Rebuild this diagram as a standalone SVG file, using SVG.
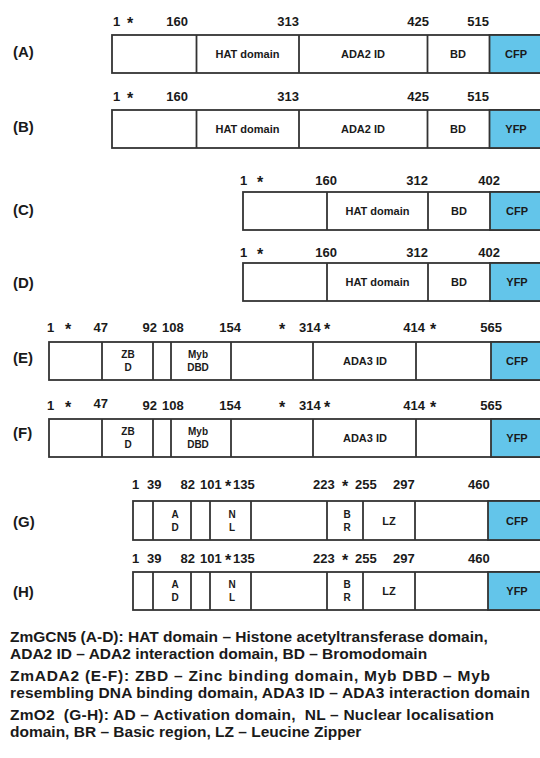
<svg xmlns="http://www.w3.org/2000/svg" width="540" height="758" viewBox="0 0 540 758">
<style>
text{font-family:"Liberation Sans",Arial,sans-serif;font-weight:bold;fill:#1a1a1a}
.n{font-size:13px}
.s{font-size:16px}
.lab{font-size:15px}
.d{font-size:11px;text-anchor:middle}
.d2{font-size:10px;text-anchor:middle}
.e{text-anchor:end}
.m{text-anchor:middle}
.box{fill:#fff;stroke:#333;stroke-width:1.8}
.fp{fill:#63c5ea;stroke:#333;stroke-width:1.8}
.dv{stroke:#333;stroke-width:1.8}
.leg{font-size:15.5px}
</style>
<rect width="540" height="758" fill="#fff"/>

<g id="A">
<text class="lab" x="13" y="57">(A)</text>
<rect class="box" x="112" y="35" width="430" height="38"/>
<rect class="fp" x="489.5" y="35" width="52" height="38"/>
<line class="dv" x1="196.5" y1="35" x2="196.5" y2="73"/>
<line class="dv" x1="299" y1="35" x2="299" y2="73"/>
<line class="dv" x1="427.5" y1="35" x2="427.5" y2="73"/>
<text class="d" x="247.5" y="58">HAT domain</text>
<text class="d" x="363" y="58">ADA2 ID</text>
<text class="d" x="458" y="58">BD</text>
<text class="d" x="516" y="58">CFP</text>
<text class="n" x="113" y="26">1</text>
<text class="s m" x="130" y="29">*</text>
<text class="n e" x="188" y="26">160</text>
<text class="n e" x="299" y="26">313</text>
<text class="n e" x="429" y="26">425</text>
<text class="n e" x="489" y="26">515</text>
</g>

<g id="B">
<text class="lab" x="13" y="132">(B)</text>
<rect class="box" x="112" y="110" width="430" height="38"/>
<rect class="fp" x="489.5" y="110" width="52" height="38"/>
<line class="dv" x1="196.5" y1="110" x2="196.5" y2="148"/>
<line class="dv" x1="299" y1="110" x2="299" y2="148"/>
<line class="dv" x1="427.5" y1="110" x2="427.5" y2="148"/>
<text class="d" x="247.5" y="133">HAT domain</text>
<text class="d" x="363" y="133">ADA2 ID</text>
<text class="d" x="458" y="133">BD</text>
<text class="d" x="516" y="133">YFP</text>
<text class="n" x="113" y="101">1</text>
<text class="s m" x="130" y="104">*</text>
<text class="n e" x="188" y="101">160</text>
<text class="n e" x="299" y="101">313</text>
<text class="n e" x="429" y="101">425</text>
<text class="n e" x="489" y="101">515</text>
</g>

<g id="C">
<text class="lab" x="13" y="215">(C)</text>
<rect class="box" x="243" y="192" width="299" height="38"/>
<rect class="fp" x="490" y="192" width="52" height="38"/>
<line class="dv" x1="327" y1="192" x2="327" y2="230"/>
<line class="dv" x1="428" y1="192" x2="428" y2="230"/>
<text class="d" x="377.5" y="215">HAT domain</text>
<text class="d" x="459" y="215">BD</text>
<text class="d" x="517" y="215">CFP</text>
<text class="n" x="240" y="185">1</text>
<text class="s m" x="260" y="188">*</text>
<text class="n e" x="337" y="185">160</text>
<text class="n e" x="428" y="185">312</text>
<text class="n e" x="500" y="185">402</text>
</g>

<g id="D">
<text class="lab" x="13" y="288">(D)</text>
<rect class="box" x="243" y="263" width="299" height="38"/>
<rect class="fp" x="490" y="263" width="52" height="38"/>
<line class="dv" x1="327" y1="263" x2="327" y2="301"/>
<line class="dv" x1="428" y1="263" x2="428" y2="301"/>
<text class="d" x="377.5" y="286">HAT domain</text>
<text class="d" x="459" y="286">BD</text>
<text class="d" x="517" y="286">YFP</text>
<text class="n" x="240" y="257">1</text>
<text class="s m" x="260" y="260">*</text>
<text class="n e" x="337" y="257">160</text>
<text class="n e" x="428" y="257">312</text>
<text class="n e" x="500" y="257">402</text>
</g>

<g id="E">
<text class="lab" x="13" y="363">(E)</text>
<rect class="box" x="49" y="342" width="493" height="38"/>
<rect class="fp" x="491" y="342" width="51" height="38"/>
<line class="dv" x1="102" y1="342" x2="102" y2="380"/>
<line class="dv" x1="153" y1="342" x2="153" y2="380"/>
<line class="dv" x1="171" y1="342" x2="171" y2="380"/>
<line class="dv" x1="231" y1="342" x2="231" y2="380"/>
<line class="dv" x1="313" y1="342" x2="313" y2="380"/>
<line class="dv" x1="416" y1="342" x2="416" y2="380"/>
<text class="d2" x="128" y="358">ZB</text>
<text class="d2" x="128" y="371">D</text>
<text class="d2" x="198" y="358">Myb</text>
<text class="d2" x="198" y="371">DBD</text>
<text class="d" x="365" y="365">ADA3 ID</text>
<text class="d" x="517" y="365">CFP</text>
<text class="n" x="47" y="332">1</text>
<text class="s m" x="68" y="335">*</text>
<text class="n e" x="108" y="332">47</text>
<text class="n e" x="157" y="332">92</text>
<text class="n" x="162" y="332">108</text>
<text class="n e" x="241" y="332">154</text>
<text class="s m" x="282" y="335">*</text>
<text class="n" x="299" y="332">314</text>
<text class="s m" x="327" y="335">*</text>
<text class="n e" x="425" y="332">414</text>
<text class="s m" x="433" y="335">*</text>
<text class="n e" x="502" y="332">565</text>
</g>

<g id="F">
<text class="lab" x="13" y="438">(F)</text>
<rect class="box" x="49" y="419" width="493" height="38"/>
<rect class="fp" x="491" y="419" width="51" height="38"/>
<line class="dv" x1="102" y1="419" x2="102" y2="457"/>
<line class="dv" x1="153" y1="419" x2="153" y2="457"/>
<line class="dv" x1="171" y1="419" x2="171" y2="457"/>
<line class="dv" x1="231" y1="419" x2="231" y2="457"/>
<line class="dv" x1="313" y1="419" x2="313" y2="457"/>
<line class="dv" x1="416" y1="419" x2="416" y2="457"/>
<text class="d2" x="128" y="435">ZB</text>
<text class="d2" x="128" y="448">D</text>
<text class="d2" x="198" y="435">Myb</text>
<text class="d2" x="198" y="448">DBD</text>
<text class="d" x="365" y="442">ADA3 ID</text>
<text class="d" x="517" y="442">YFP</text>
<text class="n" x="47" y="410">1</text>
<text class="s m" x="68" y="413">*</text>
<text class="n e" x="108" y="408">47</text>
<text class="n e" x="157" y="410">92</text>
<text class="n" x="162" y="410">108</text>
<text class="n e" x="241" y="410">154</text>
<text class="s m" x="282" y="413">*</text>
<text class="n" x="299" y="410">314</text>
<text class="s m" x="327" y="413">*</text>
<text class="n e" x="425" y="410">414</text>
<text class="s m" x="433" y="413">*</text>
<text class="n e" x="502" y="410">565</text>
</g>

<g id="G">
<text class="lab" x="13" y="527">(G)</text>
<rect class="box" x="133" y="501" width="409" height="39"/>
<rect class="fp" x="488" y="501" width="54" height="39"/>
<line class="dv" x1="153" y1="501" x2="153" y2="540"/>
<line class="dv" x1="191" y1="501" x2="191" y2="540"/>
<line class="dv" x1="210" y1="501" x2="210" y2="540"/>
<line class="dv" x1="251" y1="501" x2="251" y2="540"/>
<line class="dv" x1="327" y1="501" x2="327" y2="540"/>
<line class="dv" x1="363" y1="501" x2="363" y2="540"/>
<line class="dv" x1="415" y1="501" x2="415" y2="540"/>
<text class="d2" x="175" y="518">A</text>
<text class="d2" x="175" y="531">D</text>
<text class="d2" x="232" y="518">N</text>
<text class="d2" x="232" y="531">L</text>
<text class="d2" x="347" y="518">B</text>
<text class="d2" x="347" y="531">R</text>
<text class="d" x="389" y="525">LZ</text>
<text class="d" x="517" y="525">CFP</text>
<text class="n" x="132" y="489">1</text>
<text class="n" x="147" y="489">39</text>
<text class="n e" x="195" y="489">82</text>
<text class="n" x="200" y="489">101</text>
<text class="s m" x="228" y="492">*</text>
<text class="n" x="233" y="489">135</text>
<text class="n" x="313" y="489">223</text>
<text class="s m" x="345" y="492">*</text>
<text class="n" x="355" y="489">255</text>
<text class="n" x="393" y="489">297</text>
<text class="n" x="468" y="489">460</text>
</g>

<g id="H">
<text class="lab" x="13" y="597">(H)</text>
<rect class="box" x="133" y="572" width="409" height="38"/>
<rect class="fp" x="488" y="572" width="54" height="38"/>
<line class="dv" x1="153" y1="572" x2="153" y2="610"/>
<line class="dv" x1="191" y1="572" x2="191" y2="610"/>
<line class="dv" x1="210" y1="572" x2="210" y2="610"/>
<line class="dv" x1="251" y1="572" x2="251" y2="610"/>
<line class="dv" x1="327" y1="572" x2="327" y2="610"/>
<line class="dv" x1="363" y1="572" x2="363" y2="610"/>
<line class="dv" x1="415" y1="572" x2="415" y2="610"/>
<text class="d2" x="175" y="588">A</text>
<text class="d2" x="175" y="601">D</text>
<text class="d2" x="232" y="588">N</text>
<text class="d2" x="232" y="601">L</text>
<text class="d2" x="347" y="588">B</text>
<text class="d2" x="347" y="601">R</text>
<text class="d" x="389" y="595">LZ</text>
<text class="d" x="517" y="595">YFP</text>
<text class="n" x="132" y="563">1</text>
<text class="n" x="147" y="563">39</text>
<text class="n e" x="195" y="563">82</text>
<text class="n" x="200" y="563">101</text>
<text class="s m" x="228" y="566">*</text>
<text class="n" x="233" y="563">135</text>
<text class="n" x="313" y="563">223</text>
<text class="s m" x="345" y="566">*</text>
<text class="n" x="355" y="563">255</text>
<text class="n" x="393" y="563">297</text>
<text class="n" x="468" y="563">460</text>
</g>

<g id="legend">
<text class="leg" x="10" y="642">ZmGCN5 (A-D): HAT domain – Histone acetyltransferase domain,</text>
<text class="leg" x="10" y="659">ADA2 ID – ADA2 interaction domain, BD – Bromodomain</text>
<text class="leg" x="10" y="681" textLength="480" lengthAdjust="spacing">ZmADA2 (E-F): ZBD – Zinc binding domain, Myb DBD – Myb</text>
<text class="leg" x="10" y="698" textLength="520" lengthAdjust="spacing">resembling DNA binding domain, ADA3 ID – ADA3 interaction domain</text>
<text class="leg" x="10" y="720" xml:space="preserve" textLength="484" lengthAdjust="spacing">ZmO2  (G-H): AD – Activation domain,  NL – Nuclear localisation</text>
<text class="leg" x="10" y="737">domain, BR – Basic region, LZ – Leucine Zipper</text>
</g>
</svg>
